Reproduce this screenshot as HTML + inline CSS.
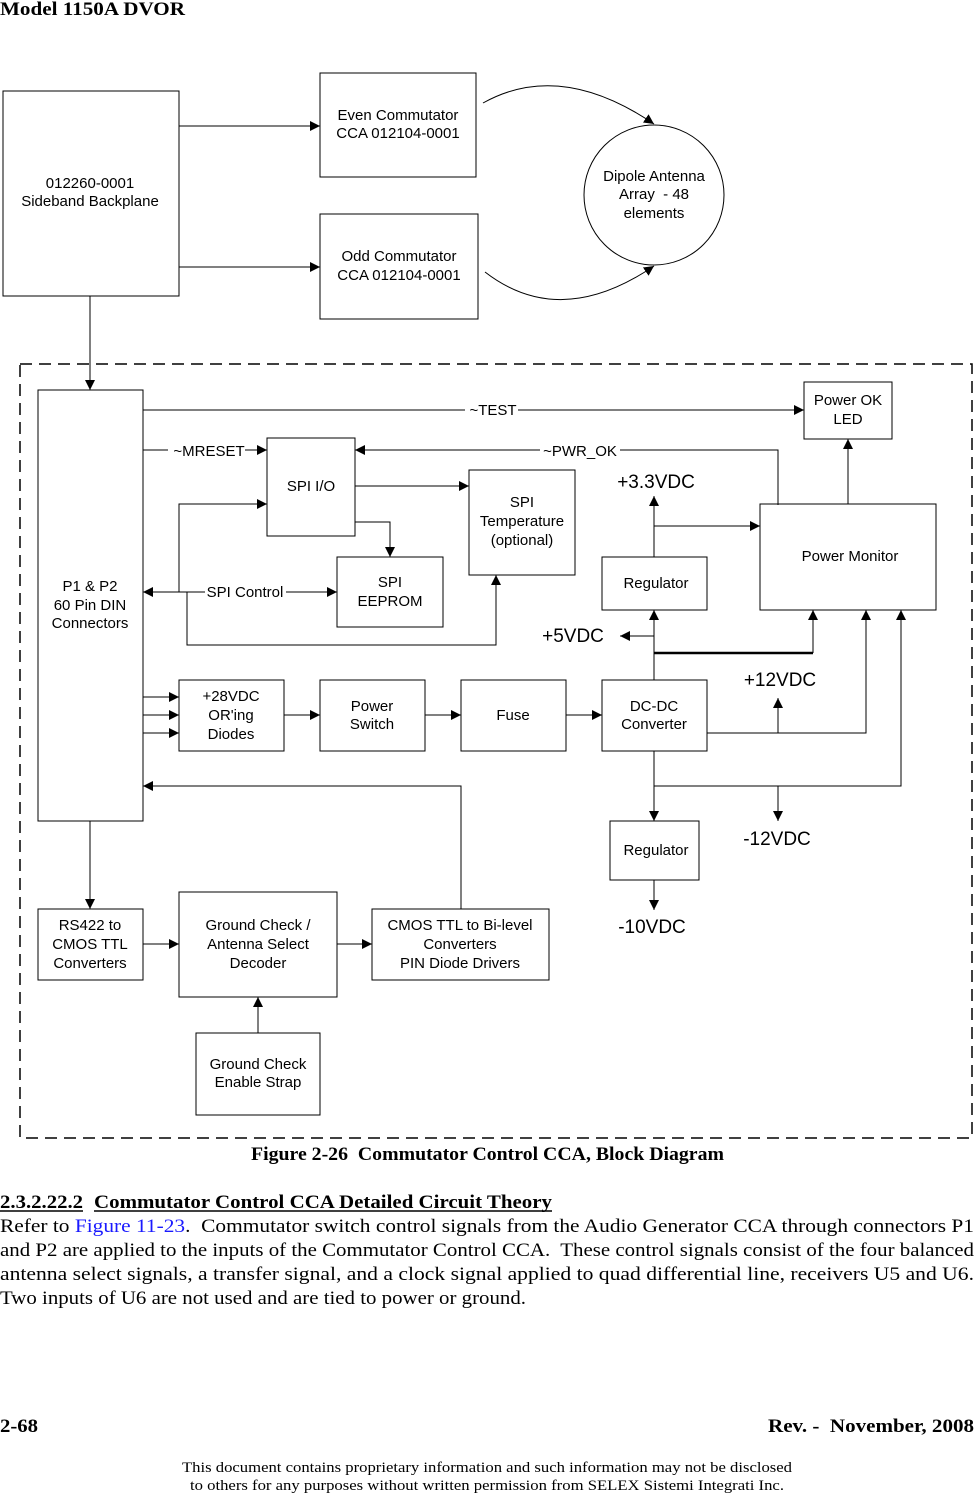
<!DOCTYPE html>
<html><head><meta charset="utf-8"><style>
html,body{margin:0;padding:0;background:#fff}
svg{display:block}
.s{font-family:"Liberation Sans",sans-serif;font-size:15px;fill:#000}
.b{font-family:"Liberation Sans",sans-serif;font-size:19px;fill:#000}
.t{font-family:"Liberation Serif",serif;font-size:19px;fill:#000}
.tb{font-family:"Liberation Serif",serif;font-size:19px;font-weight:bold;fill:#000}
.sm{font-family:"Liberation Serif",serif;font-size:15px;fill:#000}
</style></head><body>
<svg width="974" height="1494" viewBox="0 0 974 1494" xmlns="http://www.w3.org/2000/svg">
<defs>
<marker id="a" viewBox="0 0 10 10" refX="10" refY="5" markerWidth="10" markerHeight="10" markerUnits="userSpaceOnUse" orient="auto">
<path d="M0,0 L10,5 L0,10 z" fill="#000"/></marker>
</defs>
<text x="0" y="15" class="tb" textLength="185" lengthAdjust="spacingAndGlyphs">Model 1150A DVOR</text>

<g fill="none" stroke="#000" stroke-width="1">
<rect x="3" y="91" width="176" height="205"/>
<rect x="320" y="73" width="156" height="104"/>
<rect x="320" y="214" width="158" height="105"/>
<circle cx="654" cy="195" r="70"/>
<rect x="20" y="364" width="952" height="774" stroke-dasharray="12,7" stroke-width="1.5"/>
<rect x="38" y="390" width="105" height="431"/>
<rect x="804" y="382" width="88" height="57"/>
<rect x="267" y="438" width="88" height="98"/>
<rect x="469" y="470" width="106" height="105"/>
<rect x="337" y="557" width="106" height="70"/>
<rect x="760" y="504" width="176" height="106"/>
<rect x="602" y="557" width="105" height="53"/>
<rect x="179" y="680" width="105" height="71"/>
<rect x="320" y="680" width="105" height="71"/>
<rect x="461" y="680" width="105" height="71"/>
<rect x="602" y="680" width="105" height="71"/>
<rect x="610" y="821" width="89" height="59"/>
<rect x="38" y="909" width="105" height="71"/>
<rect x="179" y="892" width="158" height="105"/>
<rect x="372" y="909" width="177" height="71"/>
<rect x="196" y="1033" width="124" height="82"/>
</g>

<g fill="none" stroke="#000" stroke-width="1" marker-end="url(#a)">
<path d="M179,126 H320"/>
<path d="M179,267 H320"/>
<path d="M483,103 Q560,60 654,124"/>
<path d="M485,272 Q560,330 654,266"/>
<path d="M90,296 V390"/>
<path d="M143,410 H465 M518,410 H804"/>
<path d="M245,450 H267"/>
<path d="M778,505 V450 H620 M540,450 H355"/>
<path d="M355,486 H469"/>
<path d="M355,522 H390 V557"/>
<path d="M179,592 V504 H267"/>
<path d="M205,592 H143"/>
<path d="M286,592 H337"/>
<path d="M187,592 V645 H496 V575"/>
<path d="M848,504 V439"/>
<path d="M654,557 V496"/>
<path d="M654,526 H760"/>
<path d="M654,636 H620"/>
<path d="M654,680 V610"/>
<path d="M813,653 V610"/>
<path d="M707,733 H866 V610"/>
<path d="M778,733 V698"/>
<path d="M654,751 V821"/>
<path d="M654,786 H901 V610"/>
<path d="M778,786 V821"/>
<path d="M654,880 V910"/>
<path d="M143,697 H179"/>
<path d="M143,715 H179"/>
<path d="M143,733 H179"/>
<path d="M284,715 H320"/>
<path d="M425,715 H461"/>
<path d="M566,715 H602"/>
<path d="M461,909 V786 H143"/>
<path d="M90,821 V909"/>
<path d="M143,944 H179"/>
<path d="M337,944 H372"/>
<path d="M258,1033 V997"/>
</g>
<path d="M143,450 H168" stroke="#000" fill="none"/>
<path d="M654,653 H813" stroke="#000" stroke-width="2.5" fill="none"/>

<g class="s" text-anchor="middle">
<text x="90" y="188">012260-0001</text>
<text x="90" y="206">Sideband Backplane</text>
<text x="398" y="120">Even Commutator</text>
<text x="398" y="138">CCA 012104-0001</text>
<text x="399" y="261">Odd Commutator</text>
<text x="399" y="280">CCA 012104-0001</text>
<text x="654" y="181">Dipole Antenna</text>
<text x="654" y="199" xml:space="preserve">Array  - 48</text>
<text x="654" y="218">elements</text>
<text x="493" y="415">~TEST</text>
<text x="848" y="405">Power OK</text>
<text x="848" y="424">LED</text>
<text x="209" y="456">~MRESET</text>
<text x="580" y="456">~PWR_OK</text>
<text x="311" y="491">SPI I/O</text>
<text x="522" y="507">SPI</text>
<text x="522" y="526">Temperature</text>
<text x="522" y="545">(optional)</text>
<text x="90" y="591">P1 &amp; P2</text>
<text x="90" y="610">60 Pin DIN</text>
<text x="90" y="628">Connectors</text>
<text x="245" y="597">SPI Control</text>
<text x="390" y="587">SPI</text>
<text x="390" y="606">EEPROM</text>
<text x="850" y="561">Power Monitor</text>
<text x="656" y="588">Regulator</text>
<text x="231" y="701">+28VDC</text>
<text x="231" y="720">OR'ing</text>
<text x="231" y="739">Diodes</text>
<text x="372" y="711">Power</text>
<text x="372" y="729">Switch</text>
<text x="513" y="720">Fuse</text>
<text x="654" y="711">DC-DC</text>
<text x="654" y="729">Converter</text>
<text x="656" y="855">Regulator</text>
<text x="90" y="930">RS422 to</text>
<text x="90" y="949">CMOS TTL</text>
<text x="90" y="968">Converters</text>
<text x="258" y="930">Ground Check /</text>
<text x="258" y="949">Antenna Select</text>
<text x="258" y="968">Decoder</text>
<text x="460" y="930">CMOS TTL to Bi-level</text>
<text x="460" y="949">Converters</text>
<text x="460" y="968">PIN Diode Drivers</text>
<text x="258" y="1069">Ground Check</text>
<text x="258" y="1087">Enable Strap</text>
</g>
<g class="b" text-anchor="middle">
<text x="656" y="488">+3.3VDC</text>
<text x="573" y="642">+5VDC</text>
<text x="780" y="686">+12VDC</text>
<text x="777" y="845">-12VDC</text>
<text x="652" y="933">-10VDC</text>
</g>

<text x="251" y="1160" class="tb" textLength="473" lengthAdjust="spacingAndGlyphs" xml:space="preserve">Figure 2-26  Commutator Control CCA, Block Diagram</text>
<text x="0" y="1208" class="tb" textLength="83" lengthAdjust="spacingAndGlyphs">2.3.2.22.2</text>
<text x="94" y="1208" class="tb" textLength="458" lengthAdjust="spacingAndGlyphs">Commutator Control CCA Detailed Circuit Theory</text>
<path d="M0,1211 H83 M94,1211 H552" stroke="#000" stroke-width="1.5"/>
<text x="0" y="1232" class="t" textLength="974" lengthAdjust="spacingAndGlyphs" xml:space="preserve">Refer to <tspan fill="#1a1aff">Figure 11-23</tspan>.  Commutator switch control signals from the Audio Generator CCA through connectors P1</text>
<text x="0" y="1256" class="t" textLength="974" lengthAdjust="spacingAndGlyphs" xml:space="preserve">and P2 are applied to the inputs of the Commutator Control CCA.  These control signals consist of the four balanced</text>
<text x="0" y="1280" class="t" textLength="974" lengthAdjust="spacingAndGlyphs">antenna select signals, a transfer signal, and a clock signal applied to quad differential line, receivers U5 and U6.</text>
<text x="0" y="1304" class="t" textLength="526" lengthAdjust="spacingAndGlyphs">Two inputs of U6 are not used and are tied to power or ground.</text>

<text x="0" y="1432" class="tb" textLength="38" lengthAdjust="spacingAndGlyphs">2-68</text>
<text x="768" y="1432" class="tb" textLength="206" lengthAdjust="spacingAndGlyphs" xml:space="preserve">Rev. -  November, 2008</text>
<text x="182" y="1472" class="sm" textLength="610" lengthAdjust="spacingAndGlyphs">This document contains proprietary information and such information may not be disclosed</text>
<text x="190" y="1490" class="sm" textLength="594" lengthAdjust="spacingAndGlyphs">to others for any purposes without written permission from SELEX Sistemi Integrati Inc.</text>
</svg>
</body></html>
